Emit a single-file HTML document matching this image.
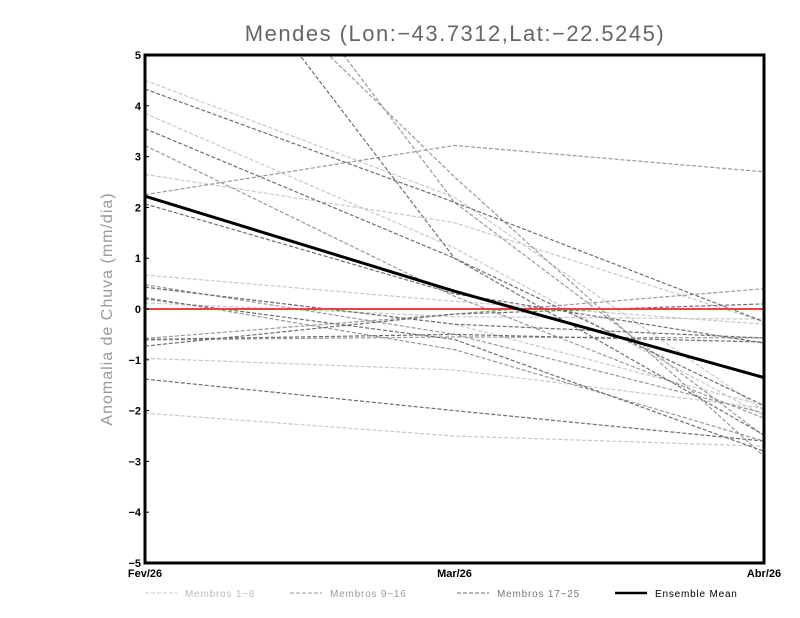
<!DOCTYPE html>
<html><head><meta charset="utf-8"><style>
body{margin:0;background:#fff;width:800px;height:618px;overflow:hidden}
svg{display:block}
text{font-family:"Liberation Sans",sans-serif}
</style></head><body>
<svg id="c" width="800" height="618"></svg>
<script>
const categories=["Fev/26","Mar/26","Abr/26"];
const yTicks=[5,4,3,2,1,0,-1,-2,-3,-4,-5];
const membersLight=[[3.85,1.2,-2.1],[2.65,1.7,-0.25],[0.67,0.15,-0.3],[-0.97,-1.2,-1.95],[-2.05,-2.5,-2.7],[0.12,-0.15,-0.2],[4.5,2.2,-2.0],[0.43,-0.3,-1.9]];
const membersMid=[[2.25,3.22,2.7],[8.5,2.6,-2.9],[10.2,2.1,-2.5],[0.48,-0.5,-2.05],[-0.58,-0.1,0.4],[3.22,0.25,-2.15],[0.23,-0.8,-2.6],[-0.61,-0.55,-0.57]];
const membersDark=[[4.33,2.1,-0.25],[3.55,1.0,-1.9],[2.07,0.3,-0.67],[0.43,-0.3,-0.57],[-0.73,-0.1,0.1],[-1.38,-2.0,-2.6],[0.2,-0.6,-2.8],[-0.6,-0.5,-0.65],[9.0,1.0,-2.48]];
const meanValues=[2.22,0.35,-1.35];
const NS="http://www.w3.org/2000/svg";
const svg=document.getElementById('c');
const X0=145,X1=764,Y0=55,Y1=563;
const xS=i=>X0+(X1-X0)*i/(categories.length-1);
const yS=v=>Y1-(v+5)/10*(Y1-Y0);
function mk(t,a){const e=document.createElementNS(NS,t);for(const k in a)e.setAttribute(k,a[k]);return e;}
const defs=mk('defs',{});const cp=mk('clipPath',{id:'pc'});cp.appendChild(mk('rect',{x:X0,y:Y0,width:X1-X0,height:Y1-Y0}));defs.appendChild(cp);svg.appendChild(defs);
const g=mk('g',{'clip-path':'url(#pc)'});svg.appendChild(g);
function series(arr,col,name){arr.forEach((m,j)=>{const p=mk('polyline',{points:m.map((v,i)=>xS(i)+','+yS(v)).join(' '),fill:'none',stroke:col,'stroke-width':1.2,'stroke-dasharray':'4,2'});


g.appendChild(p);});}
series(membersLight,'#c8c8c8','member-light');
series(membersMid,'#999','member-mid');
series(membersDark,'#6e6e6e','member-dark');
const z=mk('line',{x1:X0,x2:X1,y1:yS(0),y2:yS(0),stroke:'#f04040','stroke-width':2});


g.appendChild(z);
const mean=mk('polyline',{points:meanValues.map((v,i)=>xS(i)+','+yS(v)).join(' '),fill:'none',stroke:'#000','stroke-width':3});


g.appendChild(mean);
const fr=mk('rect',{x:X0,y:Y0,width:X1-X0,height:Y1-Y0,fill:'none',stroke:'#000','stroke-width':3});


svg.appendChild(fr);
yTicks.forEach(v=>{const t=mk('text',{x:X0-4,y:yS(v)+4,'text-anchor':'end','font-size':11,'font-weight':'bold'});t.textContent=v<0?'−'+(-v):v;


svg.appendChild(t);
svg.appendChild(mk('line',{x1:X0,x2:X0+4,y1:yS(v),y2:yS(v),stroke:'#000'}));});
categories.forEach((c,i)=>{const t=mk('text',{x:xS(i),y:Y1+14,'text-anchor':'middle','font-size':11,'font-weight':'bold'});t.textContent=c;


svg.appendChild(t);});
const ti=mk('text',{x:455,y:41,'text-anchor':'middle','font-size':22,fill:'#666','letter-spacing':'1.5','font-weight':'300'});ti.textContent='Mendes (Lon:−43.7312,Lat:−22.5245)';


svg.appendChild(ti);
const yl=mk('text',{x:112,y:309,'text-anchor':'middle','font-size':16,fill:'#999','letter-spacing':'1',transform:'rotate(-90 112 309)'});yl.textContent='Anomalia de Chuva (mm/dia)';


svg.appendChild(yl);
[['#c8c8c8','Membros 1−8',145,1,'4,2','#bbb'],['#999','Membros 9−16',290,1,'4,2','#999'],['#6e6e6e','Membros 17−25',457,1,'4,2','#777'],['#000','Ensemble Mean',615,2.5,'','#000']].forEach(l=>{
const e=mk('g',{});


e.appendChild(mk('line',{x1:l[2],x2:l[2]+32,y1:593,y2:593,stroke:l[0],'stroke-width':l[3],'stroke-dasharray':l[4]||'none'}));
const t=mk('text',{x:l[2]+40,y:597,'font-size':10,fill:l[5],'letter-spacing':'0.8'});t.textContent=l[1];e.appendChild(t);svg.appendChild(e);});
</script>
</body></html>
